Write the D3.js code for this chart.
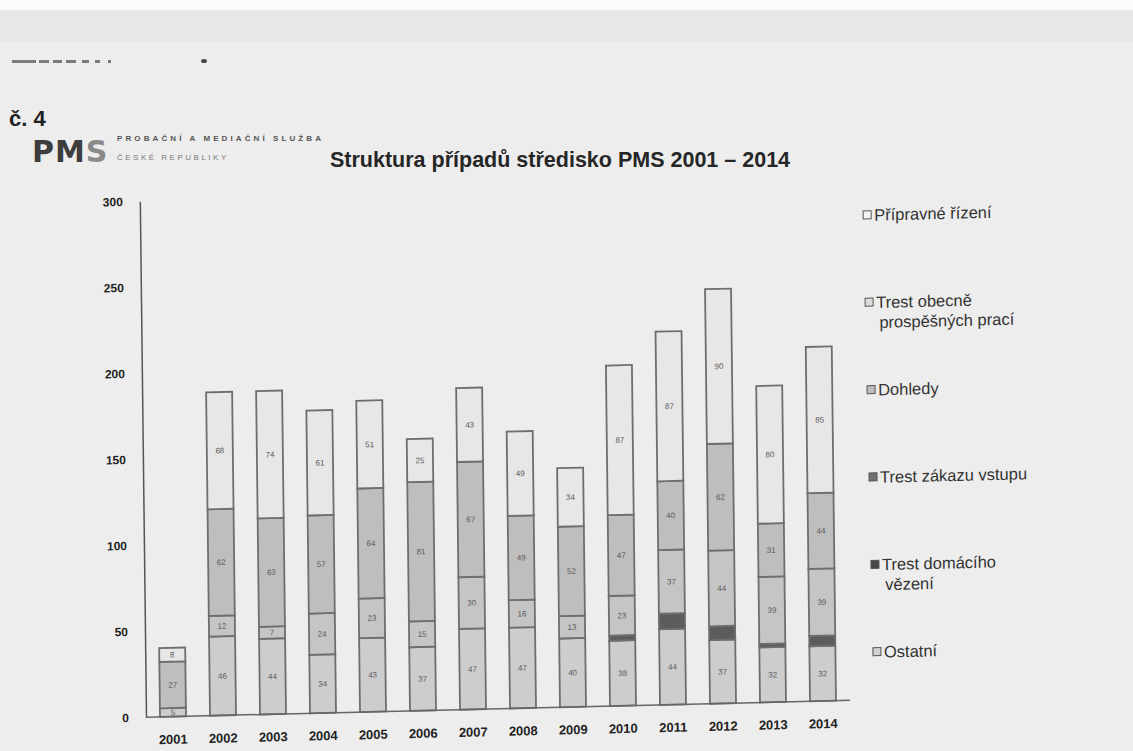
<!DOCTYPE html>
<html>
<head>
<meta charset="utf-8">
<script src="https://cdn.jsdelivr.net/npm/d3@7"></script>
<style>
  html, body { margin: 0; padding: 0; background: #ebebeb; }
  svg { display: block; font-family: "Liberation Sans", Arial, sans-serif; }
</style>
</head>
<body>
<svg id="chart" width="1133" height="751"></svg>
<script>
// ---- data ----
const years = ["2001","2002","2003","2004","2005","2006","2007","2008","2009","2010","2011","2012","2013","2014"];
const ostatni      = [5, 46, 44, 34, 43, 37, 47, 47, 40, 38, 44, 37, 32, 32];
const domaciVezeni = [0, 0, 0, 0, 0, 0, 0, 0, 0, 3, 9, 8, 2, 6];
const zakazVstupu  = [0, 0, 0, 0, 0, 0, 0, 0, 0, 0, 0, 0, 0, 0];
const dohledy      = [0, 12, 7, 24, 23, 15, 30, 16, 13, 23, 37, 44, 39, 39];
const topp         = [27, 62, 63, 57, 64, 81, 67, 49, 52, 47, 40, 62, 31, 44];
const pripravne    = [8, 68, 74, 61, 51, 25, 43, 49, 34, 87, 87, 90, 80, 85];
const yTicks = [0, 50, 100, 150, 200, 250, 300];

const seriesKeys = ["ostatni","domaciVezeni","zakazVstupu","dohledy","topp","pripravne"];
const seriesArrays = {ostatni, domaciVezeni, zakazVstupu, dohledy, topp, pripravne};
const seriesFill = {
  ostatni: "#cdcdcd", domaciVezeni: "#5c5c5c", zakazVstupu: "#777777",
  dohledy: "#c5c5c5", topp: "#bebebe", pripravne: "#e7e7e7"
};
const showLabel = {ostatni: true, domaciVezeni: false, zakazVstupu: false, dohledy: true, topp: true, pripravne: true};

// legend (top to bottom)
const legendItems = [
  {key: "pripravne",    lines: ["Přípravné řízení"],              fill: "#f4f4f4"},
  {key: "topp",         lines: ["Trest obecně", "prospěšných prací"], fill: "#dcdcdc"},
  {key: "dohledy",      lines: ["Dohledy"],                        fill: "#bdbdbd"},
  {key: "zakazVstupu",  lines: ["Trest zákazu vstupu"],            fill: "#707070"},
  {key: "domaciVezeni", lines: ["Trest domácího", "vězení"],       fill: "#474747"},
  {key: "ostatni",      lines: ["Ostatní"],                        fill: "#d2d2d2"}
];

const table = years.map((yr, i) => {
  const row = {year: yr};
  seriesKeys.forEach(k => row[k] = seriesArrays[k][i]);
  return row;
});

const svg = d3.select("#chart");

// background of the scan
svg.append("rect").attr("x",0).attr("y",0).attr("width",1133).attr("height",751).attr("fill","#ededed");
svg.append("rect").attr("x",0).attr("y",0).attr("width",1133).attr("height",10).attr("fill","#fbfbfb");
svg.append("rect").attr("x",0).attr("y",10).attr("width",1133).attr("height",32).attr("fill","#e7e7e7");

// faint cut-off text line at the top
const dashes = [[12,24],[39,10],[53,9],[66,10],[82,7],[95,5],[108,3]];
svg.append("g").selectAll("rect").data(dashes).join("rect")
  .attr("x", d => d[0]).attr("y", 60).attr("width", d => d[1]).attr("height", 3)
  .attr("fill", "#555").attr("opacity", 0.75);
svg.append("ellipse").attr("cx", 204).attr("cy", 61).attr("rx", 3).attr("ry", 2).attr("fill", "#444");

// header
svg.append("text").attr("x", 9).attr("y", 126).attr("font-size", 22).attr("font-weight", "bold")
  .attr("fill", "#222").text("č. 4");
const logo = svg.append("text").attr("x", 32).attr("y", 162).attr("font-size", 30)
  .attr("font-weight", "bold").attr("font-family", "DejaVu Sans").attr("letter-spacing", 1);
logo.append("tspan").attr("fill", "#3d3d3d").text("PM");
logo.append("tspan").attr("fill", "#8a8a8a").text("S");
svg.append("text").attr("x", 117).attr("y", 141).attr("font-size", 8).attr("font-weight", "bold")
  .attr("letter-spacing", 3.1).attr("fill", "#555").text("PROBAČNÍ A MEDIAČNÍ SLUŽBA");
svg.append("text").attr("x", 117).attr("y", 160).attr("font-size", 8)
  .attr("letter-spacing", 2.5).attr("fill", "#7a7a7a").text("ČESKÉ REPUBLIKY");

// title
svg.append("text").attr("x", 330).attr("y", 167).attr("font-size", 21.5).attr("font-weight", "bold")
  .attr("fill", "#262626").text("Struktura případů středisko PMS 2001 – 2014");

// chart group with the slight skew of the scanned page
const cx = 490, cy = 709, a = 0.012, b = -0.024;
const g = svg.append("g")
  .attr("transform", `matrix(1 ${b} ${a} 1 ${-a*cy} ${-b*cx})`);

const x = d3.scaleBand().domain(years).range([148, 848]).paddingInner(0.48).paddingOuter(0.24);
const y = d3.scaleLinear().domain([0, 300]).range([709, 193]);

const stack = d3.stack().keys(seriesKeys);
const stacked = stack(table);

const layers = g.append("g").selectAll("g").data(stacked).join("g")
  .attr("fill", d => seriesFill[d.key]);

layers.selectAll("rect").data(d => d.map(v => ({v, key: d.key}))).join("rect")
  .filter(d => d.v[1] - d.v[0] > 0)
  .attr("x", d => x(d.v.data.year))
  .attr("y", d => y(d.v[1]))
  .attr("width", x.bandwidth())
  .attr("height", d => y(d.v[0]) - y(d.v[1]))
  .attr("stroke", "#6e6e6e")
  .attr("stroke-width", 1.8);

// segment value labels
stacked.filter(s => showLabel[s.key]).forEach(s => {
  g.append("g").selectAll("text").data(s.filter(v => v[1] - v[0] > 0)).join("text")
    .attr("x", v => x(v.data.year) + x.bandwidth() / 2)
    .attr("y", v => (y(v[0]) + y(v[1])) / 2)
    .attr("dy", "0.35em")
    .attr("text-anchor", "middle")
    .attr("font-size", 8)
    .attr("fill", "#5a5a5a")
    .text(v => v[1] - v[0]);
});

// axes
const yAxis = g.append("g").attr("transform", "translate(146,0)")
  .call(d3.axisLeft(y).tickValues(yTicks).tickSize(0).tickSizeOuter(0).tickPadding(17));
yAxis.select(".domain").attr("stroke", "#555").attr("stroke-width", 1.5);
yAxis.selectAll("text").attr("font-size", 12).attr("font-weight", "bold").attr("fill", "#222")
  .attr("font-family", "Liberation Sans, Arial, sans-serif");

const xAxis = g.append("g").attr("transform", "translate(0,709)")
  .call(d3.axisBottom(x).tickSize(0).tickSizeOuter(0).tickPadding(18));
xAxis.select(".domain").attr("stroke", "#666").attr("stroke-width", 1.5)
  .attr("d", "M146,0H850");
xAxis.selectAll("text").attr("font-size", 13).attr("font-weight", "bold").attr("fill", "#222")
  .attr("font-family", "Liberation Sans, Arial, sans-serif");

// legend
const legend = g.append("g");
legendItems.forEach((it, i) => {
  const ly = 224 + i * 87.4;
  const lx = 869 + i * 0.9;
  legend.append("rect").attr("x", lx).attr("y", ly - 4).attr("width", 8).attr("height", 8)
    .attr("fill", it.fill).attr("stroke", "#555").attr("stroke-width", 1);
  const t = legend.append("text").attr("x", lx + 11).attr("y", ly + 6)
    .attr("font-size", 16.5).attr("fill", "#333");
  it.lines.forEach((ln, j) => {
    t.append("tspan").attr("x", lx + 11 + (j > 0 ? 3 : 0)).attr("dy", j === 0 ? 0 : 20).text(ln);
  });
});
</script>
</body>
</html>
